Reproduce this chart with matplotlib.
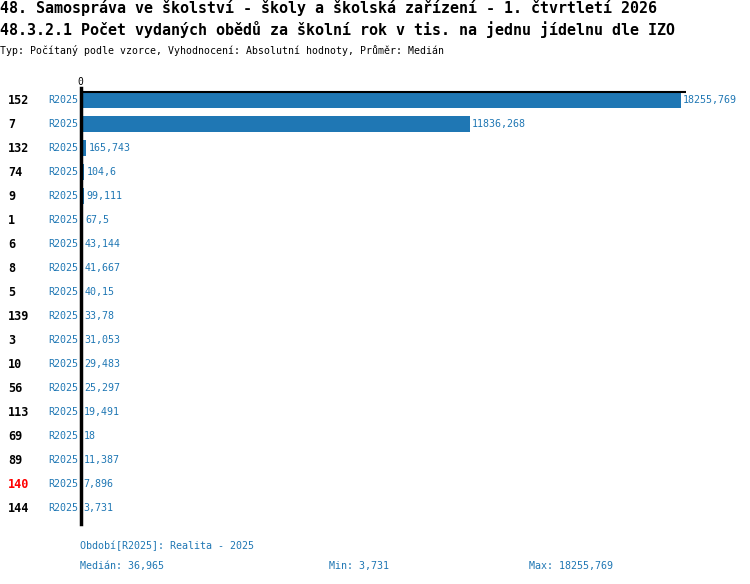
import matplotlib.pyplot as plt

# data
ids = ['152', '7', '132', '74', '9', '1', '6', '8', '5', '139', '3', '10', '56', '113', '69', '89', '140', '144']
periods = ['R2025'] * 18
values = [18255.769, 11836.268, 165.743, 104.6, 99.111, 67.5, 43.144, 41.667, 40.15,
          33.78, 31.053, 29.483, 25.297, 19.491, 18, 11.387, 7.896, 3.731]
highlight = '140'

title1 = '48. Samospráva ve školství - školy a školská zařízení - 1. čtvrtletí 2026'
title2 = '48.3.2.1 Počet vydaných obědů za školní rok v tis. na jednu jídelnu dle IZO'
subtitle = 'Typ: Počítaný podle vzorce, Vyhodnocení: Absolutní hodnoty, Průměr: Medián'
legend_text = 'Období[R2025]: Realita - 2025'

BLUE = '#1f77b4'
FONT = 'DejaVu Sans Mono'
plt.rcParams['font.family'] = FONT


def fmt(v):
    s = f'{v:.3f}'.rstrip('0').rstrip('.')
    return s.replace('.', ',')


W, H = 750, 584
fig = plt.figure(figsize=(W / 100, H / 100), dpi=100)

# axes in pixel coordinates: x 81..686, y 88..524
ax = fig.add_axes([81 / W, (H - 524) / H, 605 / W, 436 / H])
n = len(values)
ypos = list(range(n))
ax.barh(ypos, values, height=16 / 24, color=BLUE)
ax.set_xlim(0, values[0] * 605 / 600)
ax.set_ylim(n - 1 + 16 / 24, -0.5)

for s in ['right', 'bottom', 'top']:
    ax.spines[s].set_visible(False)
ax.spines['left'].set_linewidth(2.5)
ax.axhline(-1 / 3, color='black', lw=1.5)
ax.set_xticks([])
ax.set_yticks([])

for y, v in zip(ypos, values):
    ax.annotate(fmt(v), (v, y), xytext=(1.5, 0), textcoords='offset points',
                va='center', ha='left', color=BLUE, fontsize=7.2)

# left labels
for y, name, per in zip(ypos, ids, periods):
    ty = 1 - (100 + 24 * y) / H
    fig.text(8 / W, ty, name, ha='left', va='center', fontsize=8.5, fontweight='bold',
             color='red' if name == highlight else 'black')
    fig.text(78 / W, ty, per, ha='right', va='center', fontsize=7.2, color=BLUE)

fig.text(80 / W, 1 - 82 / H, '0', ha='center', va='center', fontsize=7)

fig.text(0, 1 - 8 / H, title1, ha='left', va='center', fontsize=10.8, fontweight='bold', color='black')
fig.text(0, 1 - 30 / H, title2, ha='left', va='center', fontsize=10.8, fontweight='bold', color='black')
fig.text(0, 1 - 50 / H, subtitle, ha='left', va='center', fontsize=7.1, color='black')

med = sorted(values)
median = (med[n // 2 - 1] + med[n // 2]) / 2
fig.text(80 / W, 1 - 546 / H, legend_text, ha='left', va='center', fontsize=7.2, color=BLUE)
fig.text(80 / W, 1 - 566 / H, 'Medián: ' + fmt(median), ha='left', va='center', fontsize=7.2, color=BLUE)
fig.text(329 / W, 1 - 566 / H, 'Min: ' + fmt(min(values)), ha='left', va='center', fontsize=7.2, color=BLUE)
fig.text(529 / W, 1 - 566 / H, 'Max: ' + fmt(max(values)), ha='left', va='center', fontsize=7.2, color=BLUE)

fig.savefig('out.png', dpi=100)
